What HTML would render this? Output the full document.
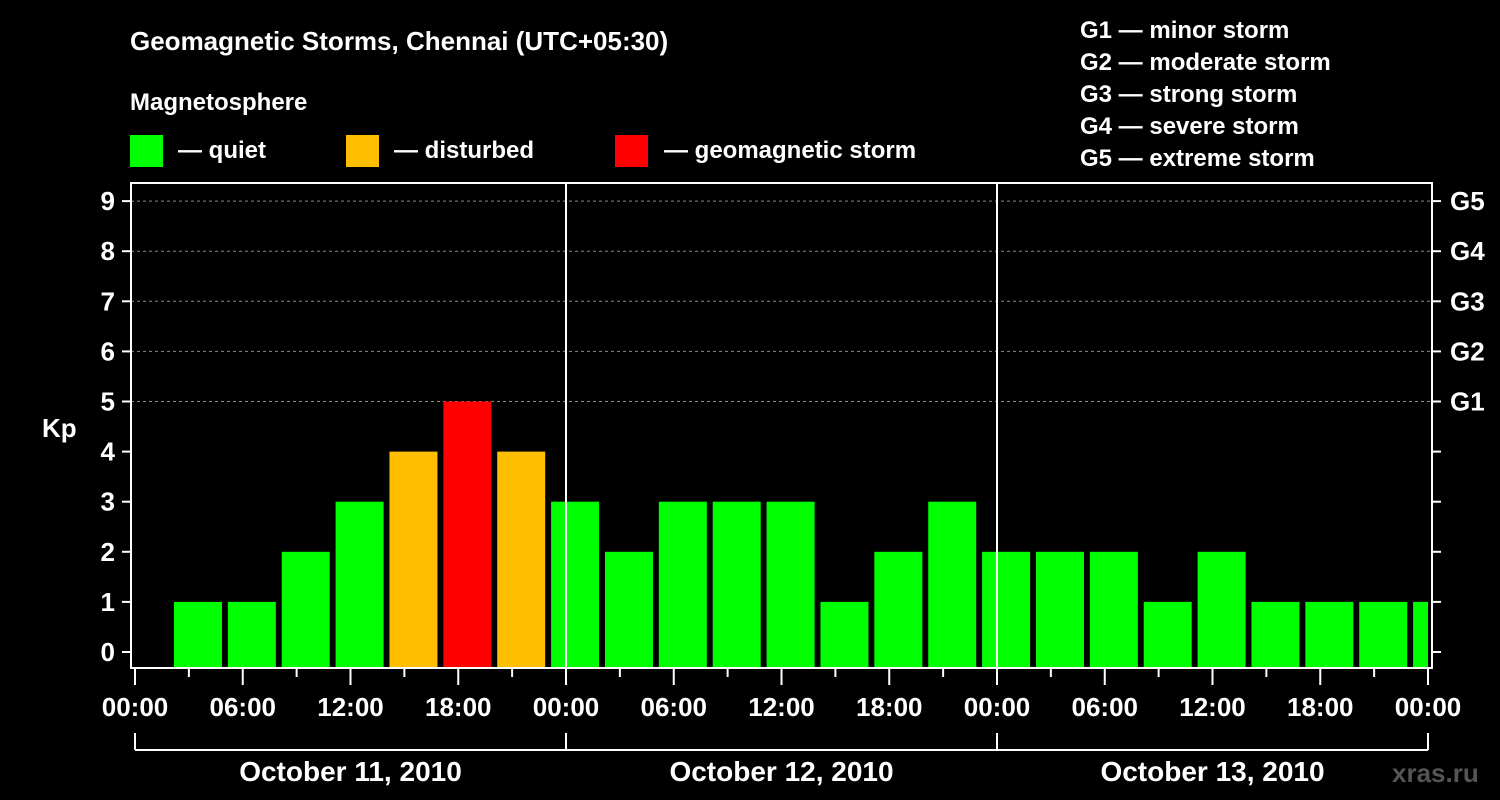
<!DOCTYPE html>
<html><head><meta charset="utf-8"><style>
body{margin:0;background:#000;}
svg{display:block;font-family:"Liberation Sans",Arial,sans-serif;font-weight:bold;}
</style></head><body>
<svg id="c" width="1500" height="800" xmlns="http://www.w3.org/2000/svg">
<rect width="1500" height="800" fill="#000"/>
<text x="130" y="50" fill="#fff" font-size="26">Geomagnetic Storms, Chennai (UTC+05:30)</text>
<text x="130" y="110" fill="#fff" font-size="24">Magnetosphere</text>
<g><rect x="130" y="135" width="33" height="32" fill="#00ff00"/><text x="178" y="158" fill="#fff" font-size="24">— quiet</text></g>
<g><rect x="346" y="135" width="33" height="32" fill="#ffbf00"/><text x="394" y="158" fill="#fff" font-size="24">— disturbed</text></g>
<g><rect x="615" y="135" width="33" height="32" fill="#ff0000"/><text x="664" y="158" fill="#fff" font-size="24">— geomagnetic storm</text></g>
<g fill="#fff" font-size="24">
<text x="1080" y="38">G1 — minor storm</text>
<text x="1080" y="70">G2 — moderate storm</text>
<text x="1080" y="102">G3 — strong storm</text>
<text x="1080" y="134">G4 — severe storm</text>
<text x="1080" y="166">G5 — extreme storm</text>
</g>
<text x="42" y="437" fill="#fff" font-size="26">Kp</text>
<text x="1392" y="782" fill="#555" font-size="26">xras.ru</text>
<g id="plot"></g>
</svg>
<script>
const kpValues=[0,1,1,2,3,4,5,4,3,2,3,3,3,1,2,3,2,2,2,1,2,1,1,1,1];
const dayLabels=["October 11, 2010","October 12, 2010","October 13, 2010"];
const timeLabels=["00:00","06:00","12:00","18:00"];
const gLabels=["G1","G2","G3","G4","G5"];
const NS="http://www.w3.org/2000/svg";
const g=document.getElementById('plot');
const X0=135,PXH=(1428-135)/72,Y0=652,PKU=50.1,BOT=668,TOP=183;
const xs=h=>X0+h*PXH, ys=v=>Y0-v*PKU;
function mk(t,a,txt){const e=document.createElementNS(NS,t);for(const k in a)e.setAttribute(k,a[k]);if(txt!=null)e.textContent=txt;g.appendChild(e);return e;}
// grid
for(let v=5;v<=9;v++){const e=mk('line',{x1:131,x2:1432,y1:ys(v),y2:ys(v),stroke:'#888','stroke-dasharray':'3,3','stroke-width':1});

}
// bars
kpValues.forEach((v,i)=>{
 let x=xs(i*3-0.83), w=48;
 let x1=Math.max(x,131), x2=Math.min(x+w,1428);
 if(v<=0||x2<=x1) return;
 const c=v>=5?'#ff0000':(v>=4?'#ffbf00':'#00ff00');
 const r=mk('rect',{x:x1,y:ys(v),width:x2-x1,height:BOT-ys(v),fill:c});
 
 
});
// day separators
for(let d=1;d<3;d++){const e=mk('line',{x1:xs(d*24),x2:xs(d*24),y1:TOP,y2:BOT,stroke:'#fff','stroke-width':2});

}
// frame
const f=mk('rect',{x:131,y:TOP,width:1301,height:BOT-TOP,fill:'none',stroke:'#fff','stroke-width':2});


// y ticks
for(let v=0;v<=9;v++){
 mk('line',{x1:122,x2:131,y1:ys(v),y2:ys(v),stroke:'#fff','stroke-width':2});
 mk('line',{x1:1432,x2:1441,y1:ys(v),y2:ys(v),stroke:'#fff','stroke-width':2});
 const t=mk('text',{x:115,y:ys(v)+9,fill:'#fff','font-size':26,'text-anchor':'end'},v);
 
 
}
gLabels.forEach((s,i)=>{const t=mk('text',{x:1450,y:ys(5+i)+9,fill:'#fff','font-size':26},s);

});
// x ticks
for(let h=0;h<=72;h+=3){const long=h%6===0;mk('line',{x1:xs(h),x2:xs(h),y1:669,y2:long?685:677,stroke:'#fff','stroke-width':2});}
for(let h=0;h<=72;h+=6){const t=mk('text',{x:xs(h),y:716,fill:'#fff','font-size':26,'text-anchor':'middle'},timeLabels[(h/6)%4]);

}
// day brackets
mk('line',{x1:xs(0),x2:xs(72),y1:750,y2:750,stroke:'#fff','stroke-width':2});
for(let d=0;d<=3;d++) mk('line',{x1:xs(d*24),x2:xs(d*24),y1:733,y2:750,stroke:'#fff','stroke-width':2});
dayLabels.forEach((s,d)=>{const t=mk('text',{x:xs(d*24+12),y:781,fill:'#fff','font-size':28,'text-anchor':'middle'},s);

});
</script>
</body></html>
